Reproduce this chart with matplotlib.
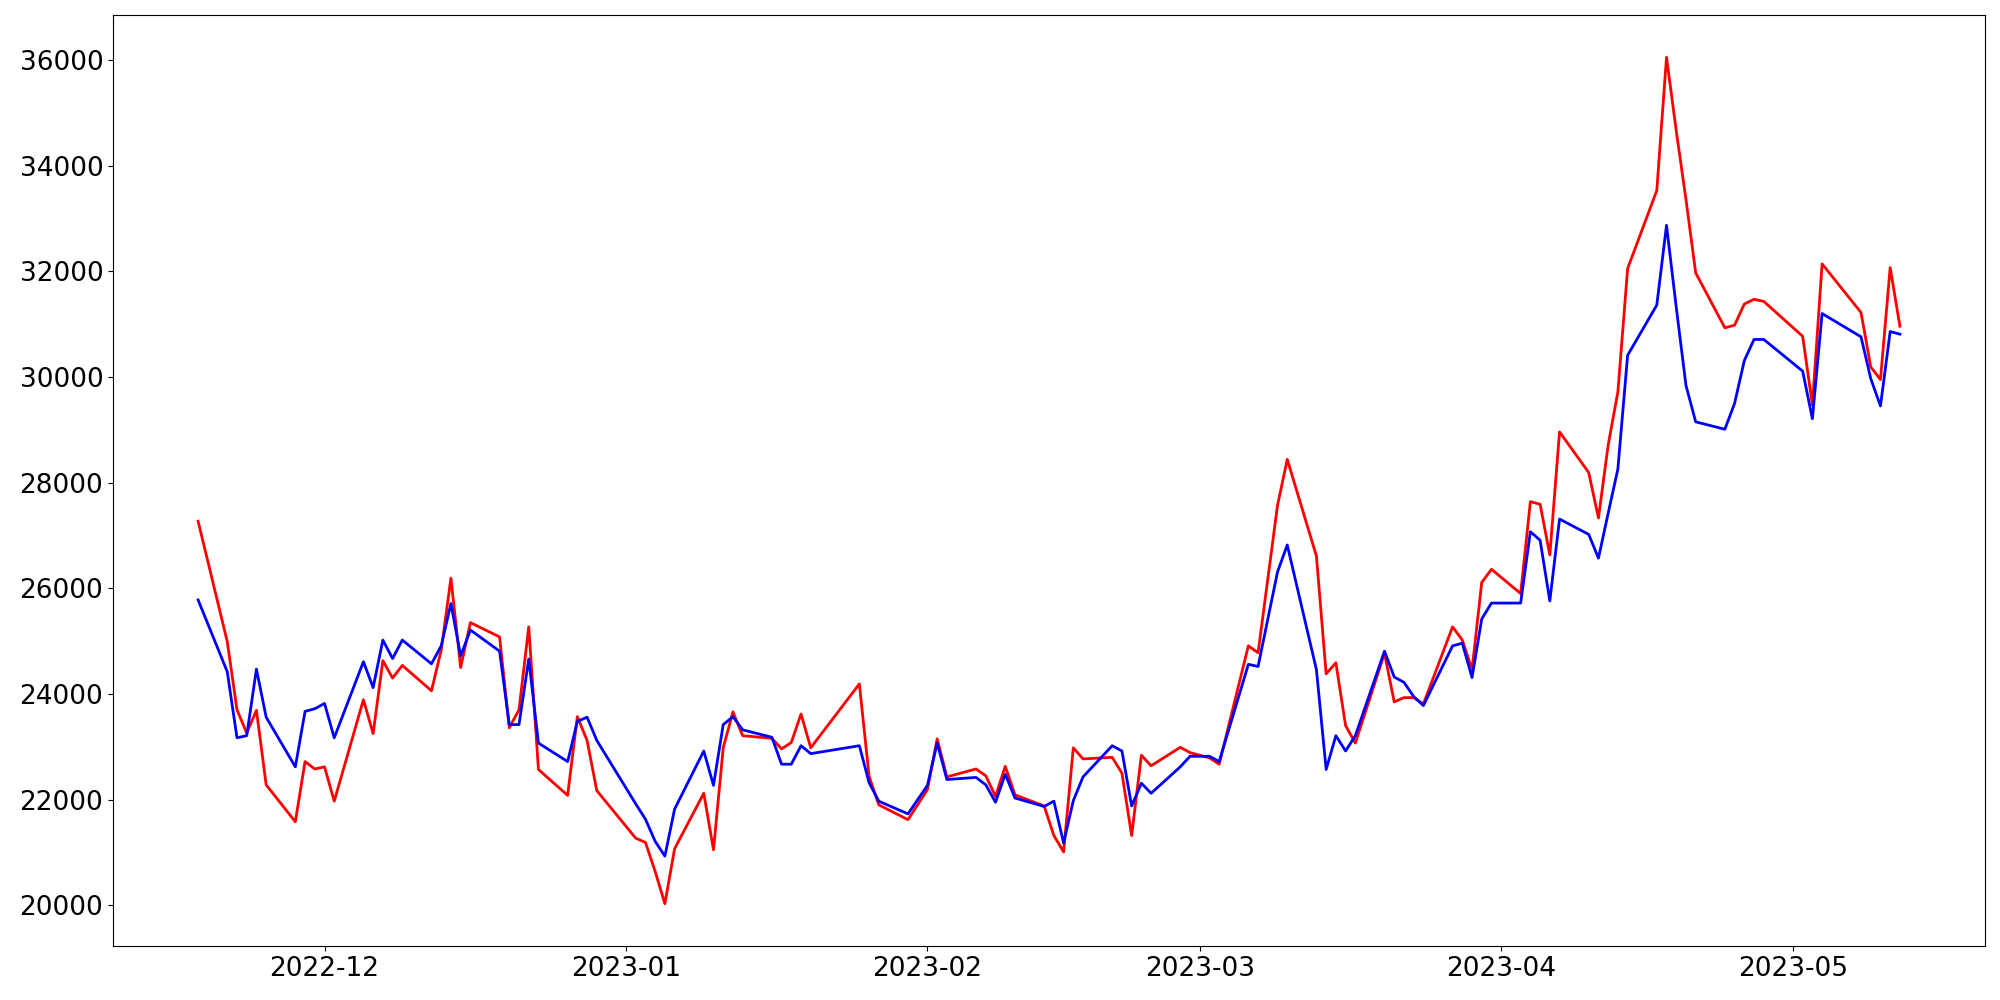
import matplotlib
matplotlib.use("Agg")
import matplotlib.pyplot as plt
import pandas as pd

dates = [
    "2022-11-18", "2022-11-21", "2022-11-22", "2022-11-23", "2022-11-24", "2022-11-25",
    "2022-11-28", "2022-11-29", "2022-11-30",
    "2022-12-01", "2022-12-02", "2022-12-05", "2022-12-06", "2022-12-07", "2022-12-08",
    "2022-12-09", "2022-12-12", "2022-12-13", "2022-12-14", "2022-12-15", "2022-12-16",
    "2022-12-19", "2022-12-20", "2022-12-21", "2022-12-22", "2022-12-23", "2022-12-26",
    "2022-12-27", "2022-12-28", "2022-12-29",
    "2023-01-02", "2023-01-03", "2023-01-04", "2023-01-05", "2023-01-06", "2023-01-09",
    "2023-01-10", "2023-01-11", "2023-01-12", "2023-01-13", "2023-01-16", "2023-01-17",
    "2023-01-18", "2023-01-19", "2023-01-20", "2023-01-25", "2023-01-26", "2023-01-27",
    "2023-01-30",
    "2023-02-01", "2023-02-02", "2023-02-03", "2023-02-06", "2023-02-07", "2023-02-08",
    "2023-02-09", "2023-02-10", "2023-02-13", "2023-02-14", "2023-02-15", "2023-02-16",
    "2023-02-17", "2023-02-20", "2023-02-21", "2023-02-22", "2023-02-23", "2023-02-24",
    "2023-02-27", "2023-02-28",
    "2023-03-01", "2023-03-02", "2023-03-03", "2023-03-06", "2023-03-07", "2023-03-09",
    "2023-03-10", "2023-03-13", "2023-03-14", "2023-03-15", "2023-03-16", "2023-03-17",
    "2023-03-20", "2023-03-21", "2023-03-22", "2023-03-23", "2023-03-24", "2023-03-27",
    "2023-03-28", "2023-03-29", "2023-03-30", "2023-03-31",
    "2023-04-03", "2023-04-04", "2023-04-05", "2023-04-06", "2023-04-07", "2023-04-10",
    "2023-04-11", "2023-04-12", "2023-04-13", "2023-04-14", "2023-04-17", "2023-04-18",
    "2023-04-19", "2023-04-20", "2023-04-21", "2023-04-24", "2023-04-25", "2023-04-26",
    "2023-04-27", "2023-04-28",
    "2023-05-02", "2023-05-03", "2023-05-04", "2023-05-08", "2023-05-09", "2023-05-10",
    "2023-05-11", "2023-05-12",
]

red_values = [
    27270, 24990, 23700, 23260, 23690, 22280, 21580, 22720, 22580,
    22620, 21970, 23890, 23250, 24630, 24300, 24540, 24060, 24830, 26190, 24500,
    25350, 25080, 23360, 23700, 25270, 22570, 22080, 23570, 23120, 22170,
    21270, 21190, 20640, 20030, 21070, 22120, 21050, 22980, 23660, 23210,
    23160, 22960, 23080, 23620, 22980, 24190, 22440, 21900, 21620,
    22190, 23150, 22430, 22580, 22450, 22060, 22630, 22090, 21880, 21320,
    21010, 22980, 22770, 22800, 22500, 21320, 22840, 22640, 22990, 22890,
    22840, 22790, 22670, 24910, 24780, 27570, 28440, 26610, 24380, 24590, 23400,
    23070, 24770, 23850, 23930, 23930, 23810, 25270, 25020, 24460, 26110, 26360,
    25900, 27640, 27590, 26630, 28960, 28190, 27330, 28710, 29720, 32050,
    33530, 36050, 34660, 33360, 31970, 30930, 30980, 31380, 31470, 31430,
    30770, 29470, 32140, 31220, 30190, 29950, 32070, 30960,
]

blue_values = [
    25780, 24420, 23170, 23210, 24470, 23560, 22620, 23670, 23720,
    23820, 23170, 24610, 24120, 25020, 24670, 25020, 24570, 24910, 25710, 24720,
    25210, 24810, 23420, 23420, 24660, 23070, 22720, 23480, 23560, 23120,
    21920, 21630, 21210, 20930, 21820, 22920, 22270, 23420, 23570, 23320,
    23180, 22670, 22670, 23020, 22870, 23020, 22320, 21970, 21730,
    22270, 23070, 22380, 22420, 22280, 21950, 22480, 22030, 21870, 21970,
    21180, 21980, 22430, 23020, 22920, 21880, 22310, 22120, 22620, 22820,
    22820, 22820, 22720, 24560, 24520, 26310, 26820, 24460, 22570, 23210, 22920,
    23210, 24810, 24320, 24220, 23950, 23780, 24910, 24960, 24310, 25420, 25720,
    25720, 27070, 26910, 25760, 27310, 27020, 26570, 27420, 28260, 30410,
    31360, 32870, 31320, 29840, 29150, 29010, 29500, 30310, 30710, 30710,
    30110, 29210, 31200, 30760, 29970, 29450, 30860, 30810,
]

x = pd.to_datetime(dates)

fig = plt.figure(figsize=(20, 10), dpi=100)
ax = fig.add_axes([0.0565, 0.054, 0.936, 0.931])
ax.plot(x, red_values, color="red", linewidth=2.0)
ax.plot(x, blue_values, color="blue", linewidth=2.0)
ax.tick_params(axis="both", labelsize=19)
fig.savefig("out.png", dpi=100)
